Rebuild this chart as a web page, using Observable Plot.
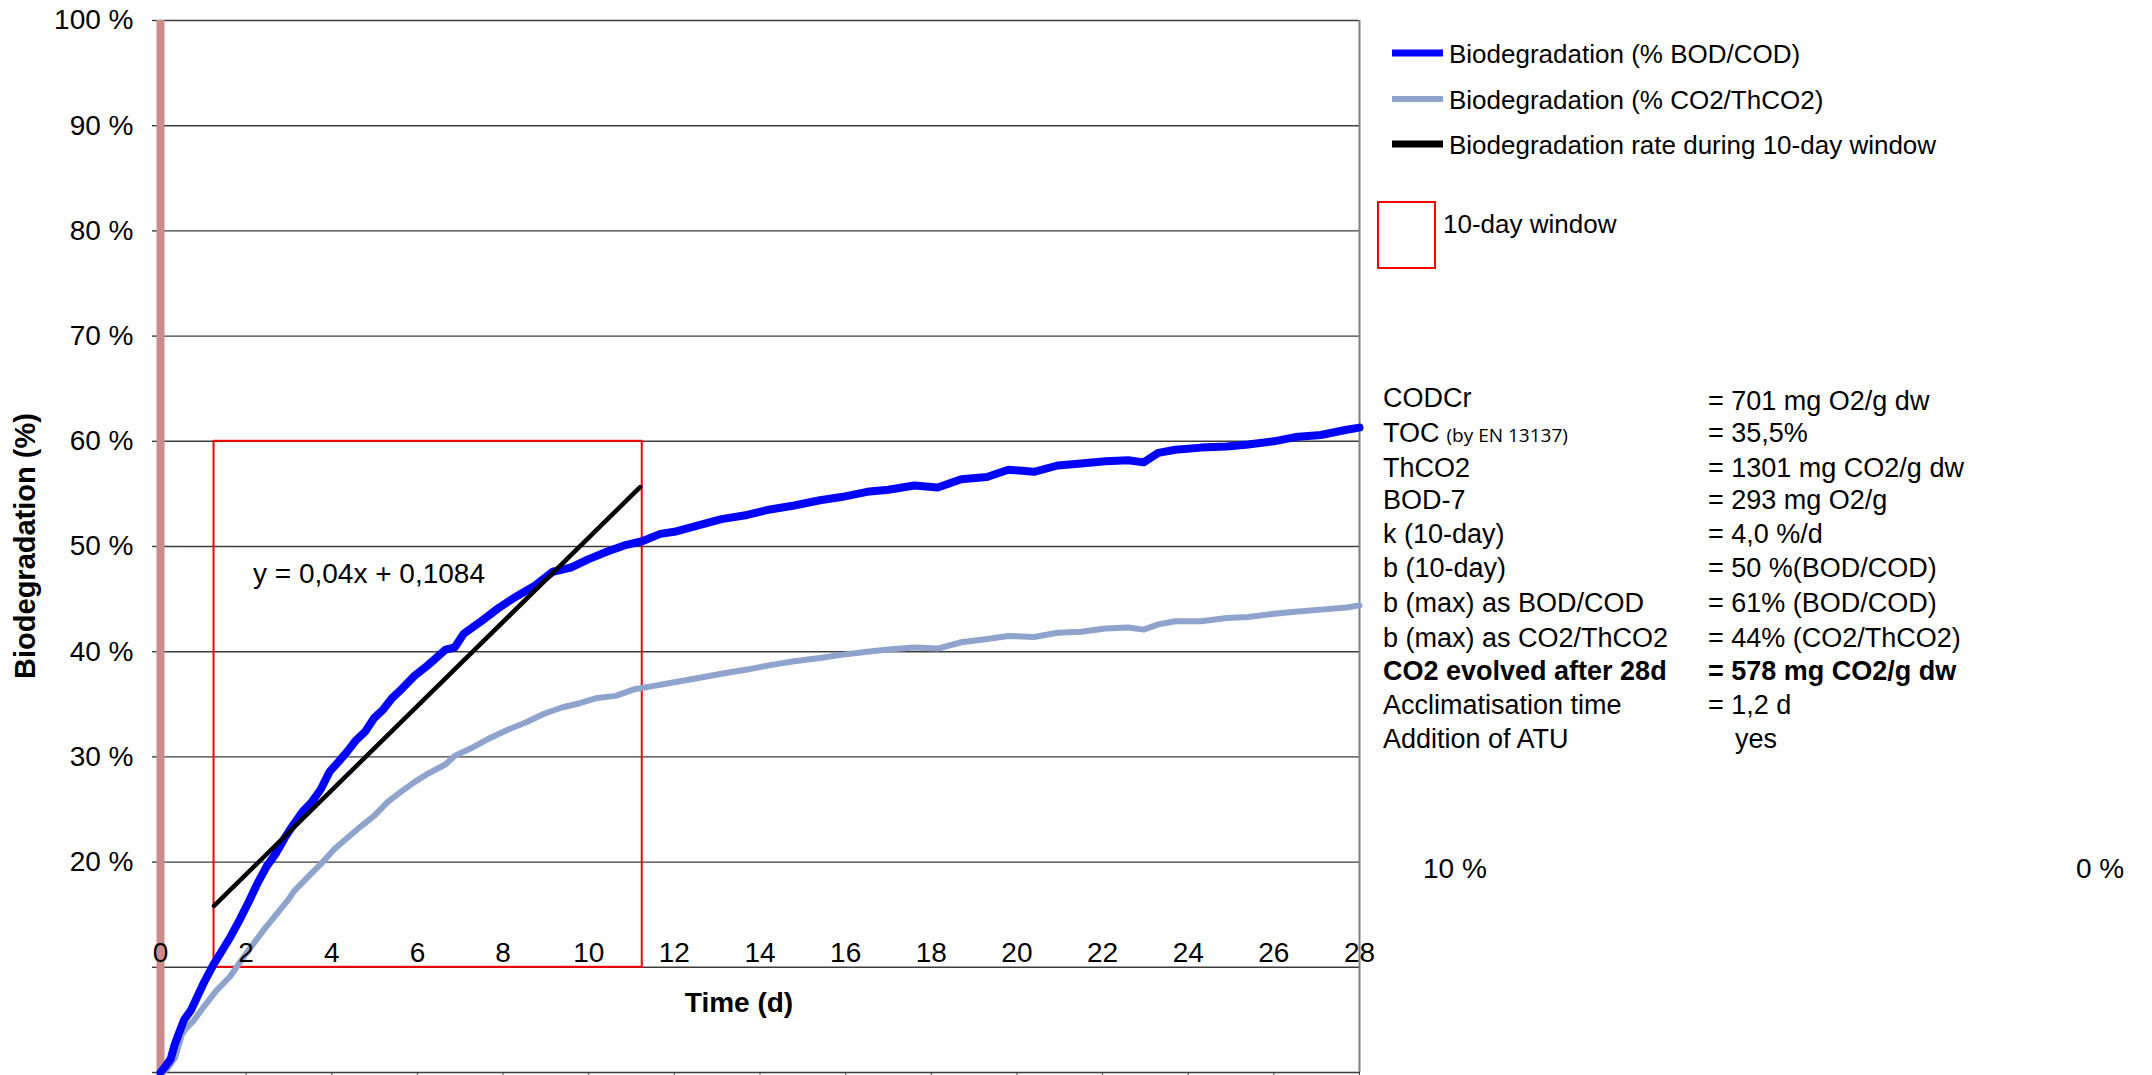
<!DOCTYPE html>
<html>
<head>
<meta charset="utf-8">
<script src="https://cdn.jsdelivr.net/npm/d3@7"></script>
<script src="https://cdn.jsdelivr.net/npm/@observablehq/plot@0.6"></script>
<style>
  html, body { margin: 0; padding: 0; background: #fff; }
  #chart { width: 2152px; height: 1075px; overflow: hidden; }
</style>
</head>
<body>
<div id="chart"></div>
<script>
// ---------- data ----------
const bodDays = [0, 0.1, 0.24, 0.32, 0.4, 0.55, 0.71, 0.87, 1.02, 1.23, 1.44, 1.65, 1.86, 2.07, 2.28, 2.48, 2.69, 2.9, 3.11, 3.32, 3.53, 3.74, 3.95, 4.15, 4.36, 4.57, 4.78, 4.99, 5.2, 5.41, 5.62, 5.93, 6.24, 6.66, 6.87, 7.08, 7.49, 7.91, 8.33, 8.75, 9.16, 9.58, 10.0, 10.42, 10.83, 11.25, 11.67, 12.0, 12.56, 13.1, 13.7, 14.2, 14.8, 15.4, 15.9, 16.5, 17.0, 17.6, 18.15, 18.7, 19.3, 19.8, 20.4, 20.95, 21.5, 22.07, 22.6, 22.96, 23.3, 23.7, 24.3, 24.9, 25.4, 26.0, 26.5, 27.1, 27.7, 28.0];
const bodPct  = [0, 0.5, 1.3, 2.5, 3.4, 5.0, 5.9, 7.3, 8.6, 10.2, 11.6, 13.0, 14.6, 16.3, 18.1, 19.6, 20.8, 22.3, 23.6, 24.8, 25.7, 26.9, 28.6, 29.5, 30.5, 31.6, 32.4, 33.7, 34.5, 35.6, 36.4, 37.7, 38.7, 40.2, 40.4, 41.7, 42.9, 44.2, 45.3, 46.3, 47.6, 48.0, 48.8, 49.5, 50.1, 50.5, 51.2, 51.4, 52.0, 52.6, 53.0, 53.5, 53.9, 54.4, 54.7, 55.2, 55.4, 55.8, 55.6, 56.4, 56.6, 57.3, 57.1, 57.7, 57.9, 58.1, 58.2, 58.0, 58.9, 59.2, 59.4, 59.5, 59.7, 60.0, 60.4, 60.6, 61.1, 61.3];

const co2Days = [0, 0.15, 0.34, 0.5, 0.6, 0.77, 1.0, 1.31, 1.62, 1.86, 2.09, 2.4, 2.72, 3.0, 3.11, 3.42, 3.74, 4.05, 4.36, 4.68, 4.99, 5.3, 5.62, 5.93, 6.24, 6.66, 6.87, 7.29, 7.7, 8.12, 8.54, 8.96, 9.37, 9.79, 10.2, 10.63, 11.04, 11.46, 12.0, 12.56, 13.1, 13.7, 14.2, 14.8, 15.4, 15.9, 16.5, 17.0, 17.6, 18.15, 18.7, 19.3, 19.8, 20.4, 20.95, 21.5, 22.07, 22.6, 22.96, 23.3, 23.7, 24.3, 24.9, 25.4, 26.0, 26.5, 27.1, 27.7, 28.0];
const co2Pct  = [0, 0.3, 1.4, 3.6, 4.2, 4.9, 6.2, 7.8, 9.1, 10.5, 11.8, 13.5, 15.1, 16.5, 17.2, 18.5, 19.8, 21.2, 22.3, 23.4, 24.4, 25.7, 26.7, 27.6, 28.4, 29.3, 30.1, 30.9, 31.8, 32.6, 33.3, 34.1, 34.7, 35.1, 35.6, 35.8, 36.4, 36.7, 37.1, 37.5, 37.9, 38.3, 38.7, 39.1, 39.4, 39.7, 40.0, 40.2, 40.4, 40.3, 40.9, 41.2, 41.5, 41.4, 41.8, 41.9, 42.2, 42.3, 42.1, 42.6, 42.9, 42.9, 43.2, 43.3, 43.6, 43.8, 44.0, 44.2, 44.4];

// 10-day window and fitted rate line (y = 0,04x + 0,1084)
const windowDays = [1.25, 11.25];
const windowPct = [10, 60];
const rateSlope = 0.04;
const rateIntercept = 0.1084;
const rateDays = [1.25, 11.2];
const rateLabel = "y = 0,04x + 0,1084";

// vertical marker at day 0
const markerDays = [0];

// ticks
const xTickDays = [0, 2, 4, 6, 8, 10, 12, 14, 16, 18, 20, 22, 24, 26, 28];
const yTickPct = [0, 10, 20, 30, 40, 50, 60, 70, 80, 90, 100];
const yLabelledFrom = 20;
const strayTickLabels = ["10 %", "0 %"];

// legend
const legendLabels = ["Biodegradation (% BOD/COD)", "Biodegradation (% CO2/ThCO2)", "Biodegradation rate during 10-day window"];
const legendColors = ["#0000ff", "#8fa4cc", "#000000"];
const windowLegend = "10-day window";

// parameter table
const paramNames = ["CODCr", "TOC", "ThCO2", "BOD-7", "k (10-day)", "b (10-day)", "b (max) as BOD/COD", "b (max) as CO2/ThCO2", "CO2 evolved after 28d", "Acclimatisation time", "Addition of ATU"];
const paramNotes = ["", "(by EN 13137)", "", "", "", "", "", "", "", "", ""];
const paramValues = ["= 701 mg O2/g dw", "= 35,5%", "= 1301 mg CO2/g dw", "= 293 mg O2/g", "= 4,0 %/d", "= 50 %(BOD/COD)", "= 61% (BOD/COD)", "= 44% (CO2/ThCO2)", "= 578 mg CO2/g dw", "= 1,2 d", "yes"];
const paramBold = [false, false, false, false, false, false, false, false, true, false, false];

const xTitle = "Time (d)";
const yTitle = "Biodegradation (%)";

// ---------- build tables ----------
const bod = bodDays.map((d, i) => ({day: d, pct: bodPct[i]}));
const co2 = co2Days.map((d, i) => ({day: d, pct: co2Pct[i]}));
const rate = rateDays.map(d => ({day: d, pct: (rateSlope * d + rateIntercept) * 100}));
const win = [{x1: windowDays[0], x2: windowDays[1], y1: windowPct[0], y2: windowPct[1]}];
const marker = markerDays.map(d => ({day: d, lo: 0, hi: 100}));

const FONT = "'Liberation Sans', Arial, Helvetica, sans-serif";

const chart = Plot.plot({
  width: 2152,
  height: 1075,
  marginLeft: 160,
  marginRight: 793,
  marginTop: 20,
  marginBottom: 3,
  x: {domain: [0, 28], label: null},
  y: {domain: [0, 100], label: null},
  style: {fontFamily: FONT, fontSize: "28px", color: "#000", background: "#fff", overflow: "visible"},
  marks: [
    Plot.gridY(yTickPct, {stroke: "#3c3c3c", strokeOpacity: 1, strokeWidth: 1.4}),
    Plot.axisY(yTickPct, {
      tickSize: 8, tickPadding: 19, stroke: "#3c3c3c", strokeWidth: 1.4,
      tickFormat: d => d >= yLabelledFrom ? `${d} %` : "", fontSize: 28, label: null
    }),
    Plot.axisX(xTickDays, {anchor: "bottom", tickSize: 8, tickFormat: () => "", label: null, stroke: "#3c3c3c"}),
    Plot.ruleX([28], {stroke: "#808080", strokeWidth: 2}),
    Plot.rect(win, {x1: "x1", x2: "x2", y1: "y1", y2: "y2", fill: "none", stroke: "#ff0000", strokeWidth: 2}),
    Plot.ruleX(marker, {x: "day", y1: "lo", y2: "hi", stroke: "#cd8c8c", strokeWidth: 8}),
    Plot.line(co2, {x: "day", y: "pct", stroke: legendColors[1], strokeWidth: 6, strokeLinejoin: "round", strokeLinecap: "round"}),
    Plot.line(bod, {x: "day", y: "pct", stroke: legendColors[0], strokeWidth: 8, strokeLinejoin: "round", strokeLinecap: "round"}),
    Plot.line(rate, {x: "day", y: "pct", stroke: legendColors[2], strokeWidth: 4.5}),
    Plot.text(xTickDays, {x: d => d, y: () => 10, dy: -5, lineAnchor: "bottom", fontSize: 28, fill: "#000"})
  ]
});

document.getElementById("chart").appendChild(chart);

// ---------- annotations, legend and table ----------
const svg = d3.select(chart);
const g = svg.append("g").attr("font-family", FONT).attr("fill", "#000").attr("text-anchor", "start");

// axis titles
g.append("text").attr("transform", "translate(35,546) rotate(-90)")
  .attr("text-anchor", "middle").attr("font-size", 29).attr("font-weight", "bold").text(yTitle);
g.append("text").attr("x", 739).attr("y", 1012)
  .attr("text-anchor", "middle").attr("font-size", 28).attr("font-weight", "bold").text(xTitle);

// regression label
g.append("text").attr("x", 253).attr("y", 583).attr("font-size", 28).text(rateLabel);

// stray labels at the right
g.append("text").attr("x", 1423).attr("y", 878).attr("font-size", 28).text(strayTickLabels[0]);
g.append("text").attr("x", 2076).attr("y", 878).attr("font-size", 28).text(strayTickLabels[1]);

// legend
const legendY = [53, 99, 144];
legendLabels.forEach((lab, i) => {
  g.append("line").attr("x1", 1392).attr("x2", 1443).attr("y1", legendY[i]).attr("y2", legendY[i])
    .attr("stroke", legendColors[i]).attr("stroke-width", i === 1 ? 6 : 7);
  g.append("text").attr("x", 1449).attr("y", legendY[i] + 10).attr("font-size", 26).text(lab);
});
g.append("rect").attr("x", 1378).attr("y", 202).attr("width", 57).attr("height", 66)
  .attr("fill", "none").attr("stroke", "#ff0000").attr("stroke-width", 2);
g.append("text").attr("x", 1443).attr("y", 233).attr("font-size", 26).text(windowLegend);

// parameter table
const rowY = [407, 442, 477, 509, 543, 577, 612, 647, 680, 714, 748];
paramNames.forEach((name, i) => {
  const t = g.append("text").attr("x", 1383).attr("y", rowY[i]).attr("font-size", 27)
    .attr("font-weight", paramBold[i] ? "bold" : "normal");
  t.append("tspan").text(name);
  if (paramNotes[i]) {
    t.append("tspan").attr("font-size", 19).attr("font-family", "'Open Sans', 'Noto Sans', sans-serif").attr("dx", 7).text(paramNotes[i]);
  }
  const isYes = paramValues[i] === "yes";
  g.append("text").attr("x", isYes ? 1735 : 1708).attr("y", rowY[i] + (i === 0 ? 3 : 0)).attr("font-size", 27)
    .attr("font-weight", paramBold[i] ? "bold" : "normal").text(paramValues[i]);
});
</script>
</body>
</html>
